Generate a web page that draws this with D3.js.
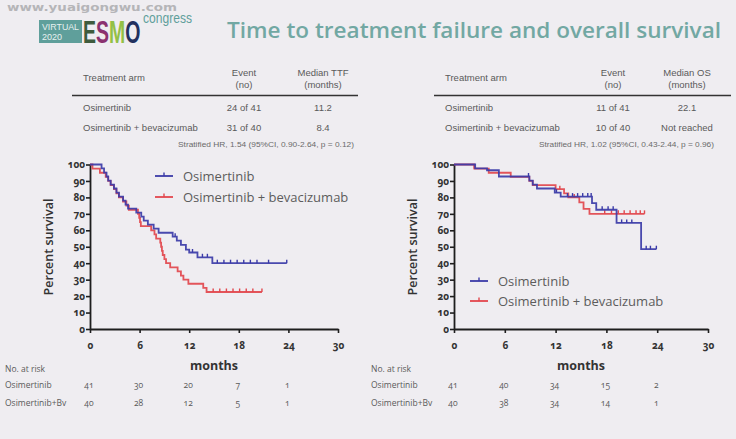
<!DOCTYPE html>
<html><head><meta charset="utf-8">
<script src="https://cdn.jsdelivr.net/npm/d3@7"></script>
<style>
html,body{margin:0;padding:0;background:#efedf1;}
svg{display:block;}
</style></head>
<body><svg id="c" width="736" height="439"></svg>
<script>
// ---------------- DATA ----------------
const titleText = "Time to treatment failure and overall survival";
const seriesNames = ["Osimertinib", "Osimertinib + bevacizumab"];
const xTicks = [0, 6, 12, 18, 24, 30];
const yTicks = [0, 10, 20, 30, 40, 50, 60, 70, 80, 90, 100];
const riskTimes = [0, 6, 12, 18, 24];

// Time to treatment failure (left)
const ttfOsi = [[0,100],[1.4,97.6],[1.7,95.1],[2.0,92.7],[2.2,90.2],[2.5,87.8],[2.9,85.4],[3.2,82.9],[3.5,80.5],[4.0,78.0],[4.3,75.6],[4.6,73.2],[5.6,70.7],[6.2,68.3],[6.5,65.9],[7.0,63.4],[7.7,61.0],[8.3,58.5],[10.0,56.1],[10.5,53.7],[11.0,51.2],[11.6,48.3],[12.0,46.5],[13.0,43.6],[14.8,40.0]];
const ttfOsiEnd = 23.8;
const ttfOsiCens = [10.3,12.4,13.6,14.2,15.4,16.2,17.0,17.8,18.6,19.4,20.2,21.6,23.8];
const ttfBev = [[0,100],[0.3,97.5],[1.2,95],[1.9,92.5],[2.2,90],[2.5,87.5],[2.9,85],[3.2,82.5],[3.5,80],[4.0,77.5],[4.4,75],[4.7,72.5],[5.8,70],[5.95,67.5],[6.05,65],[6.15,62.5],[7.4,60],[7.8,57.5],[8.0,55],[8.5,52.5],[8.6,50],[8.7,47.5],[8.8,45],[9.0,42.5],[9.2,40],[9.7,37.5],[10.6,35],[11.0,32.5],[11.3,30],[11.9,27.5],[13.7,25],[14.1,22.5]];
const ttfBevEnd = 20.8;
const ttfBevCens = [14.9,15.7,16.5,17.3,18.1,18.9,19.7,20.8];

// Overall survival (right)
const osOsi = [[0,100],[2.5,97.6],[3.9,96.5],[5.3,92.7],[8.9,90.2],[9.3,87.8],[9.8,85.4],[11.9,82.9],[12.6,80.5],[16.3,76.5],[16.8,72.5],[19.2,64.5],[22.1,48.5]];
const osOsiEnd = 23.9;
const osOsiCens = [8.8,12.1,13.4,14.0,14.6,15.2,15.8,16.2,17.5,18.2,18.8,19.8,20.4,21.0,22.7,23.2,23.9];
const osBev = [[0,100],[2.4,97.5],[4.1,95],[6.7,92.5],[8.9,90],[9.3,87.5],[12.0,85],[13.0,82.5],[13.5,80],[14.8,77],[15.3,73],[16.0,70]];
const osBevEnd = 22.5;
const osBevCens = [2.4,12.5,14.2,17.8,18.6,19.4,20.1,20.8,21.5,22.0,22.5];

// Tables
const tableHeadTTF = ["Treatment arm", ["Event","(no)"], ["Median TTF","(months)"]];
const tableRowsTTF = [["Osimertinib","24 of 41","11.2"],["Osimertinib + bevacizumab","31 of 40","8.4"]];
const footTTF = "Stratified HR, 1.54 (95%CI, 0.90-2.64, p = 0.12)";
const tableHeadOS = ["Treatment arm", ["Event","(no)"], ["Median OS","(months)"]];
const tableRowsOS = [["Osimertinib","11 of 41","22.1"],["Osimertinib + bevacizumab","10 of 40","Not reached"]];
const footOS = "Stratified HR, 1.02 (95%CI, 0.43-2.44, p = 0.96)";

// Number at risk
const riskLabels = ["Osimertinib", "Osimertinib+Bv"];
const riskTTF = [[41,30,20,7,1],[40,28,12,5,1]];
const riskOS = [[41,40,34,15,2],[40,38,34,14,1]];

// ---------------- DRAW ----------------
const svg = d3.select("#c");
const BLUE = "#3b3ba8", RED = "#e2474d", TEAL = "#72a8a3", TXT = "#5a5a5a";
svg.append("rect").attr("width",736).attr("height",439).attr("fill","#efedf1");

// watermark
svg.append("text").attr("x",7).attr("y",11).text("www.yuaigongwu.com")
  .attr("font-family","DejaVu Sans").attr("font-weight","bold").attr("font-size",10.5)
  .attr("fill","#b5b5b8").attr("textLength",170).attr("lengthAdjust","spacingAndGlyphs");

// logo
const logo = svg.append("g");
logo.append("rect").attr("x",39).attr("y",20).attr("width",43).attr("height",23).attr("fill","#5f9f9b");
logo.append("text").attr("x",42).attr("y",30).text("VIRTUAL").attr("font-family","Liberation Sans Narrow, Liberation Sans")
  .attr("font-size",9).attr("fill","#e6f0ef").attr("textLength",37).attr("lengthAdjust","spacingAndGlyphs");
logo.append("text").attr("x",42).attr("y",40).text("2020").attr("font-family","Liberation Sans")
  .attr("font-size",9).attr("fill","#e6f0ef");
const esmo = [["E","#3f5b3d"],["S","#8b3270"],["M","#93c046"],["O","#22305e"]];
const esmoText = logo.append("text").attr("transform","translate(83,43) scale(1,1.6)")
  .attr("font-family","Liberation Sans Narrow, Liberation Sans").attr("font-weight","bold")
  .attr("font-size",19.5);
esmo.forEach(d=> esmoText.append("tspan").attr("fill",d[1]).text(d[0]));
logo.append("text").attr("x",143).attr("y",23).text("congress").attr("font-family","Liberation Sans Narrow, Liberation Sans")
  .attr("font-size",14).attr("fill","#5f9f9b").attr("textLength",49).attr("lengthAdjust","spacingAndGlyphs");

// title
svg.append("text").attr("x",227).attr("y",38).text(titleText)
  .attr("font-family","Open Sans").attr("font-weight",600).attr("font-size",22)
  .attr("fill",TEAL).attr("textLength",494).attr("lengthAdjust","spacingAndGlyphs");

// tables
function drawTable(x0, x1, cEvent, cMed, head, rows, foot, footX, footW){
  const g = svg.append("g").attr("font-family","Liberation Sans").attr("fill",TXT).attr("font-size",9.5);
  g.append("text").attr("x",x0+11).attr("y",81).text(head[0]);
  [[cEvent,head[1]],[cMed,head[2]]].forEach(([cx,ls])=>{
    ls.forEach((l,i)=> g.append("text").attr("x",cx).attr("y",76+i*12).attr("text-anchor","middle").text(l));
  });
  g.append("line").attr("x1",x0).attr("x2",x1).attr("y1",95.5).attr("y2",95.5).attr("stroke","#333").attr("stroke-width",1.6);
  rows.forEach((r,i)=>{
    const y = 111 + i*20;
    g.append("text").attr("x",x0+11).attr("y",y).text(r[0]);
    g.append("text").attr("x",cEvent).attr("y",y).attr("text-anchor","middle").text(r[1]);
    g.append("text").attr("x",cMed).attr("y",y).attr("text-anchor","middle").text(r[2]);
  });
  g.append("text").attr("x",footX).attr("y",147).text(foot).attr("font-size",7).attr("fill","#6a6a6a")
    .attr("textLength",footW).attr("lengthAdjust","spacingAndGlyphs");
}
drawTable(72, 358, 244, 323, tableHeadTTF, tableRowsTTF, footTTF, 178, 176);
drawTable(434, 731, 613, 687, tableHeadOS, tableRowsOS, footOS, 539, 175);

// charts
const y = d3.scaleLinear().domain([0,100]).range([329,164.5]);
function valAt(steps, t){ let v = steps[0][1]; for(const s of steps){ if(s[0] <= t) v = s[1]; } return v; }

function drawKM(x, series, legendPos){
  const g = svg.append("g");
  const ax = g.append("g").attr("transform",`translate(0,${y(0)})`)
    .call(d3.axisBottom(x).tickValues(xTicks).tickSize(4).tickSizeOuter(0).tickFormat(d3.format("d")));
  const ay = g.append("g").attr("transform",`translate(${x(0)},0)`)
    .call(d3.axisLeft(y).tickValues(yTicks).tickSize(4).tickSizeOuter(0).tickFormat(d3.format("d")));
  [ax,ay].forEach(a=>{
    a.select(".domain").attr("stroke","#1e1e1e").attr("stroke-width",1.8);
    a.selectAll(".tick line").attr("stroke","#1e1e1e").attr("stroke-width",1.6);
    a.selectAll(".tick text").attr("font-family","Open Sans").attr("font-weight",700)
      .attr("font-size",10).attr("fill","#333").style("font-variant-numeric","oldstyle-nums");
  });
  ax.selectAll(".tick text").attr("dy","0.5em").attr("y",15);
  ay.selectAll(".tick text").attr("x",-5);
  const line = d3.line().x(d=>x(d[0])).y(d=>y(d[1])).curve(d3.curveStepAfter);
  series.slice().reverse().forEach(s=>{
    const pts = s.steps.concat([[s.end, s.steps[s.steps.length-1][1]]]);
    g.append("path").datum(pts).attr("d",line).attr("fill","none")
      .attr("stroke",s.color).attr("stroke-width",1.8).attr("opacity",0.92);
    g.selectAll(null).data(s.cens).enter().append("line")
      .attr("x1",d=>x(d)).attr("x2",d=>x(d))
      .attr("y1",d=>y(valAt(s.steps,d))).attr("y2",d=>y(valAt(s.steps,d))-3.5)
      .attr("stroke",s.color).attr("stroke-width",1.4);
  });
  g.append("text").attr("transform",`translate(${x(0)-37},247) rotate(-90)`).attr("text-anchor","middle")
    .text("Percent survival").attr("font-family","Open Sans").attr("font-weight",600).attr("font-size",12.5).attr("fill","#333");
  g.append("text").attr("x",x(15)).attr("y",370).attr("text-anchor","middle").text("months")
    .attr("font-family","Open Sans").attr("font-weight",700).attr("font-size",12.5).attr("fill","#333");
  series.forEach((s,i)=>{
    const ly = legendPos.y + i*legendPos.dy;
    g.append("line").attr("x1",legendPos.x).attr("x2",legendPos.x+18).attr("y1",ly).attr("y2",ly)
      .attr("stroke",s.color).attr("stroke-width",1.8);
    g.append("line").attr("x1",legendPos.x+9).attr("x2",legendPos.x+9).attr("y1",ly).attr("y2",ly-3.5)
      .attr("stroke",s.color).attr("stroke-width",1.4);
    g.append("text").attr("x",legendPos.x+28).attr("y",ly+4.5).text(s.name)
      .attr("font-family","Open Sans").attr("font-size",13).attr("fill","#5c5c5c");
  });
}

const xL = d3.scaleLinear().domain([0,30]).range([90,338]);
const xR = d3.scaleLinear().domain([0,30]).range([454,708]);
drawKM(xL, [
  {name:seriesNames[0], steps:ttfOsi, end:ttfOsiEnd, cens:ttfOsiCens, color:BLUE},
  {name:seriesNames[1], steps:ttfBev, end:ttfBevEnd, cens:ttfBevCens, color:RED}
], {x:155, y:176, dy:21});
drawKM(xR, [
  {name:seriesNames[0], steps:osOsi, end:osOsiEnd, cens:osOsiCens, color:BLUE},
  {name:seriesNames[1], steps:osBev, end:osBevEnd, cens:osBevCens, color:RED}
], {x:470, y:281, dy:20});

// number at risk
function drawRisk(x, left, data){
  const g = svg.append("g").attr("font-family","Open Sans").attr("font-size",8.5).attr("fill",TXT);
  g.append("text").attr("x",left).attr("y",372).text("No. at risk");
  riskLabels.forEach((l,i)=> g.append("text").attr("x",left).attr("y",388+i*18).text(l));
  data.forEach((row,i)=>{
    row.forEach((v,j)=> g.append("text").attr("x",x(riskTimes[j])-1).attr("y",388+i*18)
      .attr("text-anchor","middle").text(v).style("font-variant-numeric","oldstyle-nums"));
  });
}
drawRisk(xL, 5, riskTTF);
drawRisk(xR, 371, riskOS);
</script></body></html>
